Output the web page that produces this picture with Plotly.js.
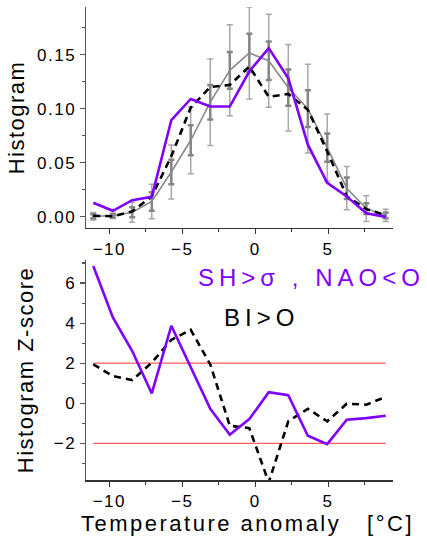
<!DOCTYPE html>
<html>
<head>
<meta charset="utf-8">
<script src="https://cdn.plot.ly/plotly-3.0.1.min.js"></script>
<style>
  html, body { margin: 0; padding: 0; background: #fff; }
  #chart { width: 427px; height: 537px; }
  .xtick text, .x2tick text, .ytick text, .y2tick text { letter-spacing: 1.5px; }
  .x2title { letter-spacing: 2.5px; transform: translateX(8px); }
  .ytitle { letter-spacing: 1.5px; }
  .y2title { letter-spacing: 1.5px; }
  .annotation-text { letter-spacing: 5px; }
</style>
</head>
<body>
<div id="chart"></div>
<script>
// Bin centres (temperature anomaly, deg C)
const binCenters = [-11.1, -9.76, -8.43, -7.09, -5.75, -4.42, -3.08, -1.74, -0.40, 0.93, 2.27, 3.61, 4.94, 6.28, 7.62, 8.95];

// Top panel: histograms
const histSH = [0.013, 0.0056, 0.0154, 0.0185, 0.0895, 0.109, 0.102, 0.102, 0.1346, 0.156, 0.128, 0.0667, 0.0315, 0.0188, 0.0034, 0.0];
const histBI = [0.001, 0.0006, 0.005, 0.019, 0.056, 0.101, 0.12, 0.122, 0.139, 0.111, 0.1136, 0.099, 0.0605, 0.019, 0.0071, 0.0015];
const histClim = [0.0006, 0.001, 0.0043, 0.0142, 0.0415, 0.0708, 0.106, 0.1355, 0.1515, 0.1443, 0.1194, 0.100, 0.064, 0.0265, 0.0076, 0.0014];
const errOuter = [0.0034, 0.0025, 0.0093, 0.016, 0.025, 0.031, 0.040, 0.042, 0.0426, 0.043, 0.040, 0.041, 0.031, 0.020, 0.012, 0.0057];
const errInner = [0.0019, 0.0015, 0.0046, 0.0085, 0.0113, 0.0139, 0.016, 0.017, 0.0177, 0.0178, 0.0168, 0.017, 0.013, 0.0099, 0.005, 0.0026];

// Bottom panel: Z-scores
const zSH = [6.85, 4.29, 2.61, 0.49, 3.87, 1.78, -0.28, -1.57, -0.79, 0.55, 0.40, -1.62, -2.04, -0.82, -0.74, -0.62];
const zBI = [1.94, 1.36, 1.16, 2.03, 3.17, 3.67, 1.94, -1.12, -1.24, -3.95, -0.90, -0.28, -0.90, -0.02, -0.07, 0.32];
const sigLevels = [2, -2];

// Labels
const labelSH = 'SH>σ , NAO<O';
const labelBI = 'BI>O';

const purple = '#7f00ff';
const firstX = binCenters[0], lastX = binCenters[binCenters.length - 1];

const traces = [
  { x: binCenters, y: histClim, xaxis: 'x', yaxis: 'y', type: 'scatter', mode: 'lines',
    line: { color: 'rgba(0,0,0,0)', width: 0 }, hoverinfo: 'skip', showlegend: false,
    error_y: { type: 'data', array: errOuter, visible: true, color: '#a8a8a8', thickness: 1.5, width: 3 } },
  { x: binCenters, y: histClim, xaxis: 'x', yaxis: 'y', type: 'scatter', mode: 'lines',
    line: { color: 'rgba(0,0,0,0)', width: 0 }, hoverinfo: 'skip', showlegend: false,
    error_y: { type: 'data', array: errInner, visible: true, color: '#858585', thickness: 2.5, width: 3 } },
  { x: binCenters, y: histClim, xaxis: 'x', yaxis: 'y', type: 'scatter', mode: 'lines',
    line: { color: '#8a8a8a', width: 1.6 }, showlegend: false },
  { x: binCenters, y: histBI, xaxis: 'x', yaxis: 'y', type: 'scatter', mode: 'lines',
    line: { color: '#000', width: 2.6, dash: '7px,5px' }, showlegend: false },
  { x: binCenters, y: histSH, xaxis: 'x', yaxis: 'y', type: 'scatter', mode: 'lines',
    line: { color: purple, width: 2.6 }, showlegend: false },

  { x: [firstX, lastX], y: [sigLevels[0], sigLevels[0]], xaxis: 'x2', yaxis: 'y2', type: 'scatter', mode: 'lines',
    line: { color: '#ff5a5a', width: 1.2 }, showlegend: false },
  { x: [firstX, lastX], y: [sigLevels[1], sigLevels[1]], xaxis: 'x2', yaxis: 'y2', type: 'scatter', mode: 'lines',
    line: { color: '#ff5a5a', width: 1.2 }, showlegend: false },
  { x: binCenters, y: zBI, xaxis: 'x2', yaxis: 'y2', type: 'scatter', mode: 'lines',
    line: { color: '#000', width: 2.6, dash: '7px,5px' }, showlegend: false },
  { x: binCenters, y: zSH, xaxis: 'x2', yaxis: 'y2', type: 'scatter', mode: 'lines',
    line: { color: purple, width: 2.6 }, showlegend: false }
];

const fam = 'Liberation Sans, Arial, sans-serif';
const tickFont = { family: fam, size: 17, color: '#000' };
const titleFont = { family: fam, size: 22, color: '#000' };

const xCommon = {
  range: [-11.6, 9.45], showline: true, linecolor: '#333', linewidth: 1.5,
  ticks: 'outside', ticklen: 5, tickwidth: 1.2, tickcolor: '#333',
  tick0: 0, dtick: 5, showgrid: false, zeroline: false, tickfont: tickFont,
  minor: { ticks: 'outside', ticklen: 3, dtick: 2.5, tick0: 0, tickcolor: '#333', showgrid: false }
};

const layout = {
  width: 427, height: 537,
  margin: { l: 86, r: 34, t: 7, b: 57 },
  paper_bgcolor: '#fff', plot_bgcolor: '#fff',
  font: { family: fam },
  showlegend: false,
  xaxis: Object.assign({}, xCommon, { anchor: 'y', domain: [0, 1] }),
  yaxis: {
    domain: [0.533, 1], anchor: 'x', range: [-0.0102, 0.194],
    showline: true, linecolor: '#555', linewidth: 1.5,
    ticks: 'outside', ticklen: 5, tickwidth: 1.2, tickcolor: '#555',
    tick0: 0, dtick: 0.05, tickformat: '.2f', showgrid: false, zeroline: false, tickfont: tickFont,
    minor: { ticks: 'outside', ticklen: 3, dtick: 0.025, tick0: 0, tickcolor: '#555', showgrid: false },
    title: { text: 'Histogram', font: titleFont, standoff: 6 }
  },
  xaxis2: Object.assign({}, xCommon, { anchor: 'y2', domain: [0, 1],
    title: { text: 'Temperature anomaly   [°C]', font: titleFont, standoff: 2 } }),
  yaxis2: {
    domain: [0, 0.465], anchor: 'x2', range: [-3.83, 7.15],
    showline: true, linecolor: '#555', linewidth: 1.5,
    ticks: 'outside', ticklen: 5, tickwidth: 1.2, tickcolor: '#555',
    tick0: 0, dtick: 2, showgrid: false, zeroline: false, tickfont: tickFont,
    minor: { ticks: 'outside', ticklen: 3, dtick: 1, tick0: 0, tickcolor: '#555', showgrid: false },
    title: { text: 'Histogram Z-score', font: titleFont, standoff: 14 }
  },
  annotations: [
    { text: labelSH, xref: 'paper', yref: 'paper', x: 1.11, y: 0.428, xanchor: 'right', yanchor: 'middle',
      showarrow: false, font: { family: fam, size: 24, color: purple } },
    { text: labelBI, xref: 'paper', yref: 'paper', x: 0.442, y: 0.343, xanchor: 'left', yanchor: 'middle',
      showarrow: false, font: { family: fam, size: 24, color: '#000' } }
  ]
};

Plotly.newPlot('chart', traces, layout, { staticPlot: true, displayModeBar: false });
</script>
</body>
</html>
